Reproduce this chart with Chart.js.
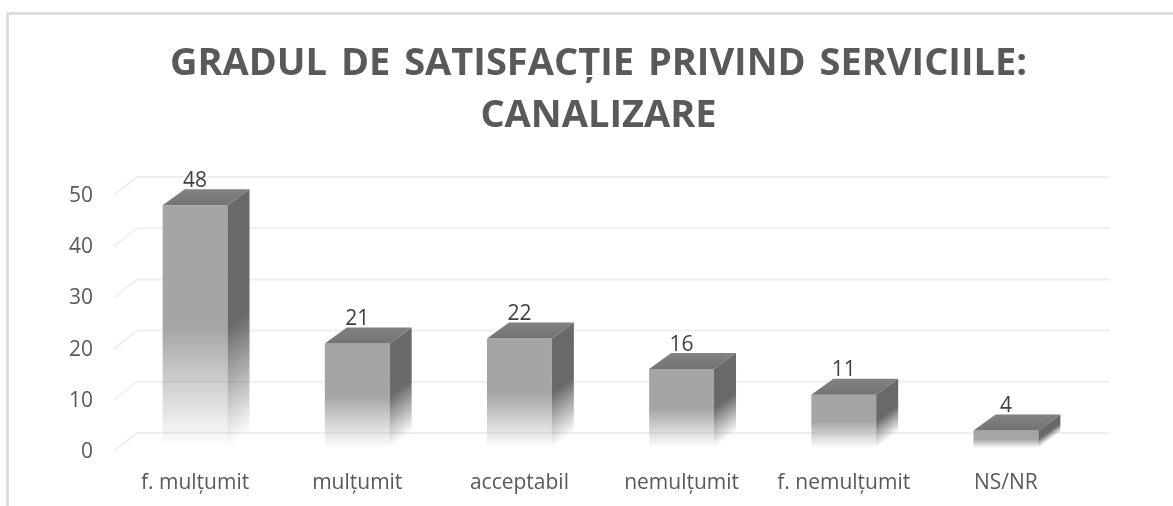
<!DOCTYPE html>
<html><head><meta charset="utf-8">
<style>
html,body{margin:0;padding:0;background:#fff;width:1173px;height:506px;overflow:hidden}
#wrap{position:relative;width:1173px;height:506px}
#frame{position:absolute;left:6px;top:12px;width:1180px;height:520px;border:3px solid #dedede;box-sizing:border-box}
canvas{position:absolute;left:0;top:0;filter:blur(0.5px)}
</style>
<script src="https://cdn.jsdelivr.net/npm/chart.js@4"></script>
</head><body>
<div id="wrap"><div id="frame"></div><canvas id="c" width="1173" height="506"></canvas></div>
<script>
const categories = ["f. mulțumit","mulțumit","acceptabil","nemulțumit","f. nemulțumit","NS/NR"];
const values = [48,21,22,16,11,4];
const titleLines = ["GRADUL DE SATISFACȚIE PRIVIND SERVICIILE:","CANALIZARE"];
const yMax = 50, yStep = 10;
const FONT = '"Open Sans", sans-serif';
const DX = 22, DY = 16, BOTTOM_CUT = 3;

function addStops(g, rgb, stop){
  g.addColorStop(0,`rgb(${rgb})`);
  g.addColorStop(stop,`rgb(${rgb})`);
  g.addColorStop(1,`rgba(${rgb},0)`);
  return g;
}
function fade(ctx, y0, y1, rgb, stop){
  return addStops(ctx.createLinearGradient(0,y0,0,y1), rgb, stop);
}
function skewFade(ctx, x, y0, y1, rgb, stop){
  const n = Math.hypot(DX,DY), nx = DY/n, ny = DX/n, d = (y1-y0)*ny;
  return addStops(ctx.createLinearGradient(x,y0,x+nx*d,y0+ny*d), rgb, stop);
}

const titleSpacing = {
  id:'titleSpacing',
  afterLayout(chart){
    const tb = chart.titleBlock;
    if(!tb || tb._spaced) return;
    tb._spaced = true;
    const orig = tb.draw;
    tb.draw = function(){
      chart.ctx.wordSpacing = '4px';
      orig.call(this);
      chart.ctx.wordSpacing = '0px';
    };
  }
};
const wall = {
  id:'wall',
  beforeDatasetsDraw(chart){
    const {ctx,scales:{y},chartArea:a} = chart;
    ctx.save();
    ctx.strokeStyle='#efefef'; ctx.lineWidth=2;
    y.ticks.forEach(t=>{
      const p=y.getPixelForValue(t.value);
      ctx.beginPath();
      ctx.moveTo(a.left,p);
      ctx.lineTo(a.left+DX+1,p-18);
      ctx.lineTo(a.right+23,p-18);
      ctx.stroke();
    });
    ctx.restore();
  }
};
const solid = {
  id:'solid',
  afterDatasetsDraw(chart){
    const {ctx}=chart;
    const meta=chart.getDatasetMeta(0);
    meta.data.forEach((b,i)=>{
      const l=b.x-b.width/2,r=b.x+b.width/2,t=b.y,bt=b.base-BOTTOM_CUT;
      ctx.save();
      ctx.fillStyle=skewFade(ctx,r,t,bt,'105,105,105',0.5);
      ctx.beginPath();
      ctx.moveTo(r,t);ctx.lineTo(r+DX,t-DY);ctx.lineTo(r+DX,bt-DY);ctx.lineTo(r,bt);ctx.closePath();ctx.fill();
      const g=ctx.createLinearGradient(0,t-DY,0,t);
      g.addColorStop(0,'#828282');g.addColorStop(1,'#737373');
      ctx.fillStyle=g;
      ctx.beginPath();
      ctx.moveTo(l,t);ctx.lineTo(l+DX,t-DY);ctx.lineTo(r+DX,t-DY);ctx.lineTo(r,t);ctx.closePath();ctx.fill();
      ctx.fillStyle='#404040';
      ctx.font='21px '+FONT;
      ctx.textAlign='center';ctx.textBaseline='middle';
      ctx.fillText(String(values[i]),b.x,t-24.5);
      ctx.restore();
    });
  }
};

new Chart(document.getElementById('c'),{
  type:'bar',
  data:{labels:categories,datasets:[{
    data:values,
    barPercentage:0.4,categoryPercentage:1,
    backgroundColor(c){
      const {ctx,scales:{y}}=c.chart;
      const top=y?y.getPixelForValue(values[c.dataIndex]):NaN;
      const bot=y?y.getPixelForValue(0)-BOTTOM_CUT:NaN;
      if(!Number.isFinite(top)||!Number.isFinite(bot)) return 'rgb(165,165,165)';
      return fade(ctx,top,bot,'165,165,165',0.5);
    },
    borderWidth:0
  }]},
  options:{
    responsive:false,animation:false,
    layout:{padding:{left:24,right:0,top:0,bottom:0}},
    plugins:{
      legend:{display:false},tooltip:{enabled:false},
      title:{display:true,text:titleLines,color:'#595959',
        font:{family:FONT,size:38,weight:'bold',lineHeight:1.369},
        padding:{top:38,bottom:53}}
    },
    scales:{
      x:{grid:{display:false},border:{display:false},
        ticks:{color:'#595959',font:{family:FONT,size:21},padding:11,maxRotation:0},
        afterFit(s){s.height=55;}},
      y:{min:0,max:yMax,grid:{display:false},border:{display:false},
        ticks:{stepSize:yStep,color:'#595959',font:{family:FONT,size:21},padding:13,labelOffset:1},
        afterFit(s){s.width=90;}},
      spacer:{type:'linear',position:'right',display:true,grid:{display:false},border:{display:false},
        ticks:{display:false},afterFit(s){s.width=86;}}
    }
  },
  plugins:[titleSpacing,wall,solid]
});
</script>
</body></html>
